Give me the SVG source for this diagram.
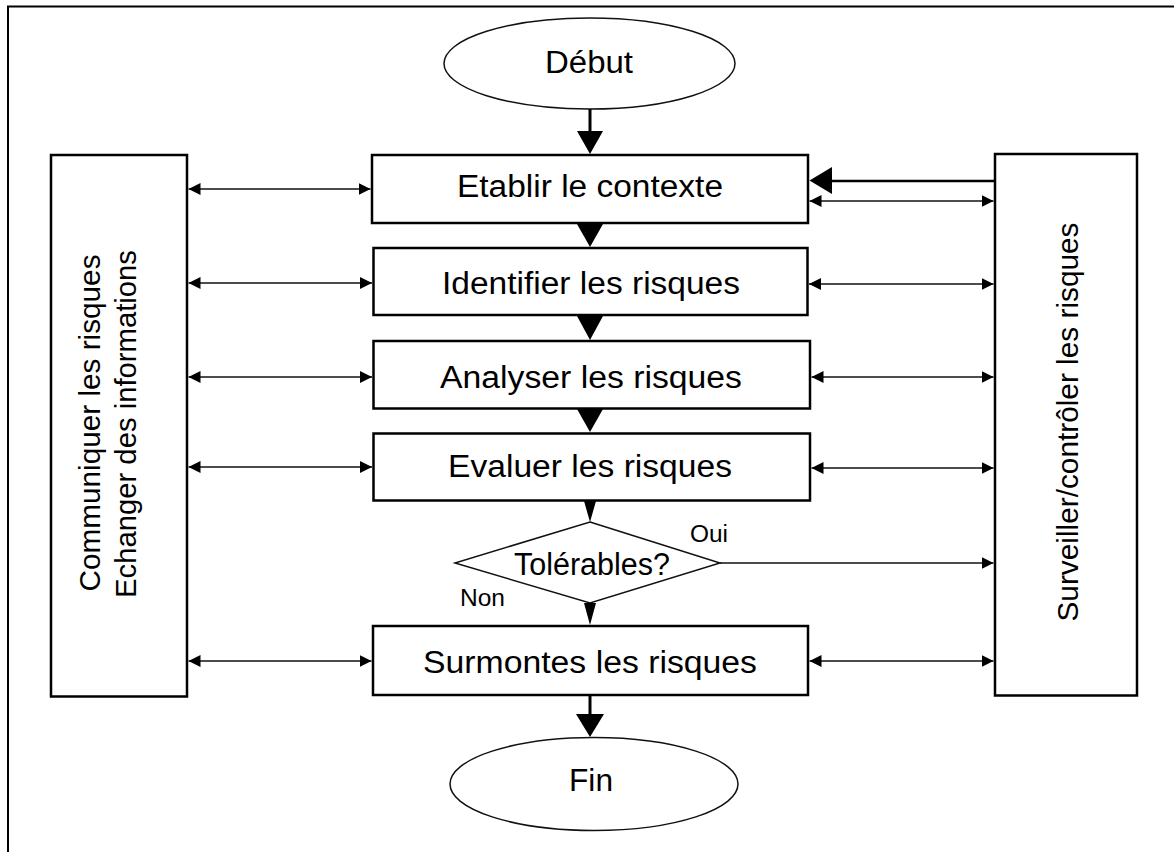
<svg xmlns="http://www.w3.org/2000/svg" width="1174" height="852" viewBox="0 0 1174 852">
<style>
.box{fill:#fff;stroke:#000;stroke-width:2.5}
.thin{fill:#fff;stroke:#111;stroke-width:1.5}
.lbl{font-family:"Liberation Sans",Arial,sans-serif;font-size:31px;fill:#000;text-anchor:middle}
.side{font-family:"Liberation Sans",Arial,sans-serif;font-size:30px;fill:#000;text-anchor:middle}
.small{font-family:"Liberation Sans",Arial,sans-serif;font-size:23px;fill:#000}
.dbl{fill:none;stroke:#111;stroke-width:1.5;marker-start:url(#ah);marker-end:url(#ah)}
.one{fill:none;stroke:#111;stroke-width:1.5;marker-end:url(#ah)}
.tri{fill:#000}
</style>
<defs>
<marker id="ah" markerUnits="userSpaceOnUse" markerWidth="12" markerHeight="12" refX="12" refY="6" orient="auto-start-reverse">
<path d="M0,0 L12,6 L0,12 z" fill="#000"/>
</marker>
</defs>
<rect x="8" y="6.5" width="1200" height="900" fill="#fff" stroke="#000" stroke-width="2"/>

<g id="debut">
<ellipse class="thin" cx="589.5" cy="63.5" rx="145.5" ry="45.5"/>
<text class="lbl" x="589" y="73" font-size="30" textLength="88" lengthAdjust="spacingAndGlyphs">Début</text>
</g>
<g id="communiquer">
<rect class="box" x="51" y="155" width="136" height="541.5"/>
<text class="side" transform="translate(100,423) rotate(-90)" textLength="337" lengthAdjust="spacingAndGlyphs">Communiquer les risques</text>
<text class="side" transform="translate(136,424) rotate(-90)" textLength="348" lengthAdjust="spacingAndGlyphs">Echanger des informations</text>
</g>
<g id="surveiller">
<rect class="box" x="995" y="154" width="142" height="541.5"/>
<text class="side" transform="translate(1078,422) rotate(-90)" textLength="399" lengthAdjust="spacingAndGlyphs">Surveiller/contrôler les risques</text>
</g>
<g id="etablir">
<rect class="box" x="372" y="155" width="436" height="68"/>
<text class="lbl" x="590" y="197" textLength="266" lengthAdjust="spacingAndGlyphs">Etablir le contexte</text>
</g>
<g id="identifier">
<rect class="box" x="373.5" y="248" width="434" height="67"/>
<text class="lbl" x="591" y="294" textLength="298" lengthAdjust="spacingAndGlyphs">Identifier les risques</text>
</g>
<g id="analyser">
<rect class="box" x="373.5" y="341" width="436.5" height="67.5"/>
<text class="lbl" x="591" y="388" textLength="302" lengthAdjust="spacingAndGlyphs">Analyser les risques</text>
</g>
<g id="evaluer">
<rect class="box" x="373.5" y="433.5" width="436.5" height="67"/>
<text class="lbl" x="590" y="477" textLength="284" lengthAdjust="spacingAndGlyphs">Evaluer les risques</text>
</g>
<g id="tolerables">
<polygon class="thin" points="590,522 720,563 590,603 455,563"/>
<text class="lbl" x="592" y="575" textLength="156" lengthAdjust="spacingAndGlyphs">Tolérables?</text>
</g>
<g id="surmontes">
<rect class="box" x="373" y="626" width="435" height="69"/>
<text class="lbl" x="590" y="673" textLength="334" lengthAdjust="spacingAndGlyphs">Surmontes les risques</text>
</g>
<g id="fin">
<ellipse class="thin" cx="594" cy="784" rx="144" ry="46.5"/>
<text class="lbl" x="591" y="791" font-size="30" textLength="44" lengthAdjust="spacingAndGlyphs">Fin</text>
</g>

<g id="connectors">
<line x1="590" y1="109" x2="590" y2="133" stroke="#000" stroke-width="3"/>
<polygon class="tri" points="577,131 603,131 590,154"/>
<polygon class="tri" points="577,224 603,224 590,247"/>
<polygon class="tri" points="577,316 603,316 590,340"/>
<polygon class="tri" points="577,409 603,409 590,432"/>
<polygon class="tri" points="584,501 596,501 590,522"/>
<polygon class="tri" points="584,603 596,603 590,625"/>
<line x1="590" y1="695" x2="590" y2="716" stroke="#000" stroke-width="3"/>
<polygon class="tri" points="576,714 604,714 590,737"/>

<line class="dbl" x1="188.5" y1="189" x2="370.5" y2="189"/>
<line class="dbl" x1="188.5" y1="283" x2="372" y2="283"/>
<line class="dbl" x1="188.5" y1="377" x2="372" y2="377"/>
<line class="dbl" x1="188.5" y1="467" x2="372" y2="467"/>
<line class="dbl" x1="188.5" y1="661" x2="371.5" y2="661"/>

<line x1="995" y1="181" x2="830" y2="181" stroke="#000" stroke-width="2.5"/>
<polygon class="tri" points="809.5,180.5 832,167 832,194"/>
<line class="dbl" x1="809.5" y1="201" x2="993.5" y2="201"/>
<line class="dbl" x1="809" y1="284" x2="993.5" y2="284"/>
<line class="dbl" x1="811.5" y1="377" x2="993.5" y2="377"/>
<line class="dbl" x1="811.5" y1="468" x2="993.5" y2="468"/>
<line class="dbl" x1="809.5" y1="661" x2="993.5" y2="661"/>
<line class="one" x1="720" y1="563" x2="993.5" y2="563"/>
</g>

<g id="labels">
<text class="small" x="690" y="542" textLength="38" lengthAdjust="spacingAndGlyphs">Oui</text>
<text class="small" x="460" y="606" textLength="45" lengthAdjust="spacingAndGlyphs">Non</text>
</g>
</svg>
